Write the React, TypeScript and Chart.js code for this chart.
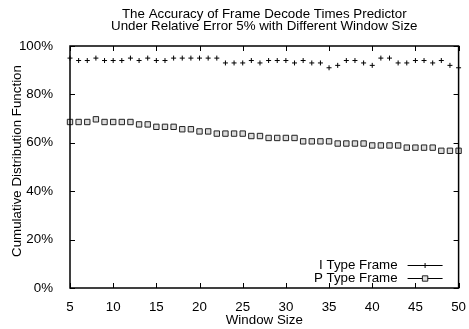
import React, { useEffect, useRef } from 'react';
import { Chart, registerables } from 'chart.js';

Chart.register(...registerables);

const windowSizes = [5, 6, 7, 8, 9, 10, 11, 12, 13, 14, 15, 16, 17, 18, 19, 20, 21, 22, 23, 24, 25, 26, 27, 28, 29, 30, 31, 32, 33, 34, 35, 36, 37, 38, 39, 40, 41, 42, 43, 44, 45, 46, 47, 48, 49, 50];
const iTypeValues = [95, 94, 94, 95, 94, 94, 94, 95, 94, 95, 94, 94, 95, 95, 95, 95, 95, 95, 93, 93, 93, 94, 93, 94, 94, 94, 93, 94, 93, 93, 91, 92, 94, 94, 93, 92, 95, 95, 93, 93, 94, 94, 93, 94, 92, 91];
const pTypeValues = [68.6, 68.6, 68.6, 69.7, 68.6, 68.6, 68.6, 68.6, 67.6, 67.6, 66.6, 66.6, 66.6, 65.6, 65.6, 64.7, 64.7, 63.8, 63.8, 63.8, 63.8, 62.8, 62.8, 62, 62, 62, 62, 60.6, 60.6, 60.6, 60.6, 59.7, 59.7, 59.7, 59.7, 58.9, 58.9, 58.9, 58.9, 58, 58, 58, 58, 56.7, 56.7, 56.7];
const xTickValues = [5, 10, 15, 20, 25, 30, 35, 40, 45, 50];
const yTickValues = [0, 20, 40, 60, 80, 100];
const titleLines = ['The Accuracy of Frame Decode Times Predictor', 'Under Relative Error 5% with Different Window Size'];
const seriesLabels = ['I Type Frame', 'P Type Frame'];
const xAxisTitle = 'Window Size';
const yAxisTitle = 'Cumulative Distribution Function';

const FONT = "'Liberation Sans', Arial, Helvetica, sans-serif";
const FS = 13.33;

function drawMarker(ctx: CanvasRenderingContext2D, style: string, x: number, y: number, r: number, fill: string) {
  ctx.beginPath();
  if (style === 'cross') {
    ctx.moveTo(x - r, y);
    ctx.lineTo(x + r, y);
    ctx.moveTo(x, y - r);
    ctx.lineTo(x, y + r);
    ctx.stroke();
  } else {
    const s = r * Math.SQRT1_2;
    ctx.fillStyle = fill;
    ctx.rect(x - s, y - s, 2 * s, 2 * s);
    ctx.fill();
    ctx.stroke();
  }
}

const framePlugin = {
  id: 'gnuplotFrame',
  afterDraw(chart: any) {
    const { ctx, chartArea } = chart;
    const { left, right, top, bottom } = chartArea;
    const xs = chart.scales.x;
    const ys = chart.scales.y;
    ctx.save();
    ctx.strokeStyle = '#000';
    ctx.lineWidth = 1;
    ctx.beginPath();
    xs.ticks.forEach((t: any) => {
      const px = Math.round(xs.getPixelForValue(t.value)) + 0.5;
      ctx.moveTo(px, bottom);
      ctx.lineTo(px, bottom - 5);
      ctx.moveTo(px, top);
      ctx.lineTo(px, top + 5);
    });
    ys.ticks.forEach((t: any) => {
      const py = Math.round(ys.getPixelForValue(t.value)) + 0.5;
      ctx.moveTo(left, py);
      ctx.lineTo(left + 5, py);
      ctx.moveTo(right, py);
      ctx.lineTo(right - 5, py);
    });
    ctx.stroke();
    ctx.lineWidth = 1.5;
    ctx.strokeRect(left, top, right - left, bottom - top);

    ctx.fillStyle = '#000';
    ctx.font = `${FS}px ${FONT}`;
    ctx.save();
    ctx.translate(17, (top + bottom) / 2 - 6);
    ctx.rotate(-Math.PI / 2);
    ctx.textAlign = 'center';
    ctx.textBaseline = 'middle';
    ctx.fillText(yAxisTitle, 0, 0);
    ctx.restore();

    const textRight = right - 61;
    const lineStart = right - 51;
    const lineEnd = right - 16;
    chart.data.datasets.forEach((ds: any, i: number) => {
      const ry = Math.round(bottom - 23 + i * 13) + 0.5;
      ctx.fillStyle = '#000';
      ctx.textAlign = 'right';
      ctx.textBaseline = 'middle';
      ctx.fillText(ds.label, textRight, ry);
      ctx.strokeStyle = '#000';
      ctx.lineWidth = 1;
      ctx.beginPath();
      ctx.moveTo(lineStart, ry);
      ctx.lineTo(lineEnd, ry);
      ctx.stroke();
      ctx.strokeStyle = ds.borderColor;
      drawMarker(ctx, ds.pointStyle, (lineStart + lineEnd) / 2, ry, ds.pointRadius, ds.backgroundColor);
    });
    ctx.restore();
  },
};

export default function App() {
  const canvasRef = useRef<HTMLCanvasElement | null>(null);

  useEffect(() => {
    document.body.style.margin = '0';
    const canvas = canvasRef.current;
    if (!canvas) return;
    const chart = new Chart(canvas, {
      type: 'scatter',
      data: {
        datasets: [
          {
            label: seriesLabels[0],
            data: windowSizes.map((w, i) => ({ x: w, y: iTypeValues[i] })),
            pointStyle: 'cross',
            pointRadius: 2.5,
            borderColor: '#000',
            backgroundColor: '#000',
            borderWidth: 1,
            showLine: false,
            clip: false,
          },
          {
            label: seriesLabels[1],
            data: windowSizes.map((w, i) => ({ x: w, y: pTypeValues[i] })),
            pointStyle: 'rect',
            pointRadius: 3.8,
            borderColor: '#222',
            backgroundColor: '#ddd',
            borderWidth: 1,
            showLine: false,
            clip: false,
          },
        ],
      },
      options: {
        animation: false,
        responsive: false,
        devicePixelRatio: 1,
        layout: { padding: { top: 0, right: 10, bottom: 0, left: 0 }, autoPadding: false },
        font: { family: FONT, size: FS },
        plugins: {
          legend: { display: false },
          tooltip: { enabled: false },
          title: {
            display: true,
            fullSize: false,
            text: titleLines,
            color: '#000',
            font: { family: FONT, size: FS, weight: 'normal', lineHeight: '12.5px' },
            padding: { top: 8, bottom: 13 },
          },
        },
        scales: {
          x: {
            type: 'linear',
            min: 5,
            max: 50,
            afterBuildTicks: (s: any) => {
              s.ticks = xTickValues.map((v) => ({ value: v }));
            },
            afterFit: (s: any) => {
              s.height = 41;
            },
            grid: { display: false },
            border: { display: false },
            ticks: {
              color: '#000',
              padding: 3,
              maxRotation: 0,
              font: { family: FONT, size: FS },
            },
            title: {
              display: true,
              text: xAxisTitle,
              color: '#000',
              font: { family: FONT, size: FS },
              padding: { top: 0, bottom: 1 },
            },
          },
          y: {
            type: 'linear',
            min: 0,
            max: 100,
            afterBuildTicks: (s: any) => {
              s.ticks = yTickValues.map((v) => ({ value: v }));
            },
            afterFit: (s: any) => {
              s.width = 70;
            },
            grid: { display: false },
            border: { display: false },
            ticks: {
              color: '#000',
              padding: 9,
              font: { family: FONT, size: FS },
              callback: (v: any) => `${v}%`,
            },
          },
        },
      },
      plugins: [framePlugin],
    } as any);
    return () => chart.destroy();
  }, []);

  return (
    <div style={{ position: 'absolute', left: 0, top: 0, width: 469, height: 329, background: '#fff' }}>
      <canvas ref={canvasRef} width={469} height={329} />
    </div>
  );
}
